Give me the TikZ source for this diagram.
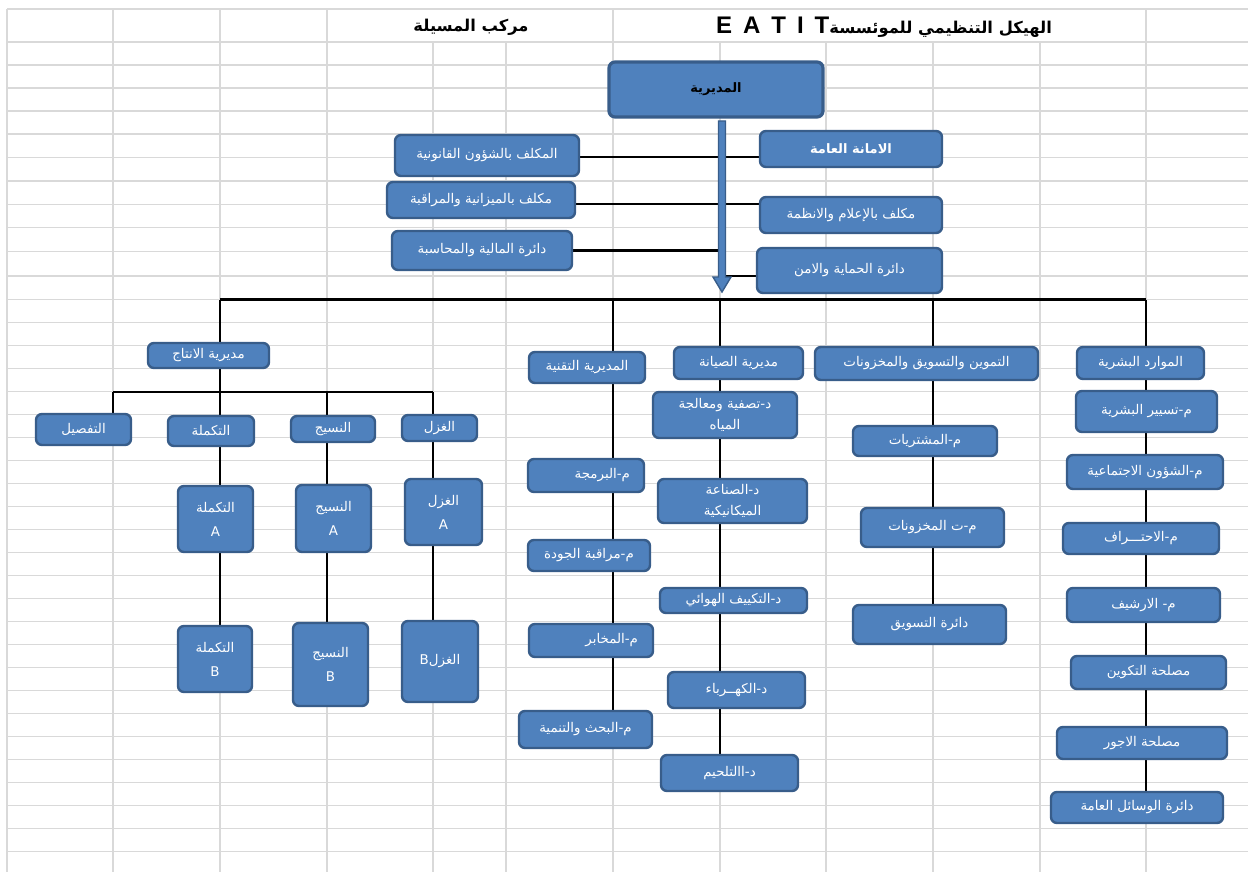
\documentclass[tikz,border=0pt]{standalone}
\usepackage{fontspec}
\setmainfont{Liberation Sans}
\newfontfamily\arabicfont[Script=Arabic]{DejaVu Sans}
\newfontfamily\latinfont{Liberation Sans}
\TeXXeTstate=1
\usetikzlibrary{calc}
\definecolor{boxfill}{HTML}{4F81BD}
\definecolor{boxline}{HTML}{385D8A}
\definecolor{gridgray}{HTML}{D9D9D9}
\pgfdeclarelayer{gridlayer}
\pgfdeclarelayer{connlayer}
\pgfsetlayers{gridlayer,connlayer,main}
\newcommand{\rl}[1]{\beginR #1\endR}
\newcommand{\orgbox}[7][]{%
  \pgfmathsetmacro\bxw{#5-#3}\pgfmathsetmacro\bxh{#6-#4}%
  \pgfmathsetmacro\bxx{(#3+#5)/2}\pgfmathsetmacro\bxy{(#4+#6)/2}%
  \node[box,minimum width=\bxw pt,minimum height=\bxh pt,#1] (#2) at (\bxx,\bxy) {#7};}
\tikzset{
  box/.style={draw=boxline, fill=boxfill, line width=2.4pt, rounded corners=6pt,
    inner sep=0pt, text=white, align=center,
    font=\arabicfont\fontsize{13.4}{21}\selectfont},
  tallbox/.style={font=\arabicfont\fontsize{13.4}{24}\selectfont},
  conn/.style={draw=black, line width=2.2pt},
  busline/.style={draw=black, line width=2.8pt},
  gridline/.style={draw=gridgray, line width=1.3pt},
  titletext/.style={inner sep=0pt, text=black, font=\arabicfont\bfseries\fontsize{16.3}{20}\selectfont},
  blockarrow/.style={draw=boxline, fill=boxfill, line width=1.4pt, line join=miter},
}
\begin{document}
\begin{tikzpicture}[x=1pt,y=-1pt]
\useasboundingbox (0,0) rectangle (1248,872);

% ---------------- grid ----------------
\begin{pgfonlayer}{gridlayer}
\fill[white] (0,0) rectangle (1248,872);
\foreach \x in {7,113,220,327,433,506,613,720,826,933,1040,1146}
  \draw[gridline] (\x,42) -- (\x,872);
\foreach \x in {7,113,220,327,613,1146}
  \draw[gridline] (\x,9) -- (\x,42);
\foreach \y in {9,42,65,88,111,134,157.5,181,204.3,227.7,251.3,276}
  \draw[gridline] (7,\y) -- (1248,\y);
\foreach \k in {0,...,24}
  \draw[gridline] (7,{299.5+23*\k}) -- (1248,{299.5+23*\k});
\end{pgfonlayer}

% ---------------- titles ----------------
\node[titletext] (title) at (884,27) {\beginR الهيكل التنظيمي للموئسسة\beginL{\latinfont\bfseries\fontsize{24}{26}\selectfont E\hspace{11pt}A\hspace{11pt}T\hspace{11pt}I\hspace{11pt}T}\endL\endR};
\node[titletext] (site) at (471,27) {\rl{مركب المسيلة}};

% ---------------- top ----------------
\orgbox[line width=3.2pt, text=black, font=\arabicfont\bfseries\fontsize{13}{16}\selectfont]{dir}{609}{62}{823}{117}{\rl{المديرية}}
\orgbox{legal}{395}{135}{579}{176}{\rl{المكلف بالشؤون القانونية}}
\orgbox{budget}{387}{182}{575}{218}{\rl{مكلف بالميزانية والمراقبة}}
\orgbox{finance}{392}{231}{572}{270}{\rl{دائرة المالية والمحاسبة}}
\orgbox[font=\arabicfont\bfseries\fontsize{13}{16}\selectfont]{amana}{760}{131}{942}{167}{\rl{الامانة العامة}}
\orgbox{media}{760}{197}{942}{233}{\rl{مكلف بالإعلام والانظمة}}
\orgbox{security}{757}{248}{942}{293}{\rl{دائرة الحماية والامن}}

% ---------------- production ----------------
\orgbox{prod}{148}{343}{269}{368}{\rl{مديرية الانتاج}}
\orgbox{tafsil}{36}{414}{131}{445}{\rl{التفصيل}}
\orgbox{takmila}{168}{416}{254}{446}{\rl{التكملة}}
\orgbox{nasij}{291}{416}{375}{442}{\rl{النسيج}}
\orgbox{ghazal}{402}{415}{477}{441}{\rl{الغزل}}
\orgbox[tallbox]{takA}{178}{486}{253}{552}{\rl{التكملة}\\A}
\orgbox[tallbox]{takB}{178}{626}{252}{692}{\rl{التكملة}\\B}
\orgbox[tallbox]{nasA}{296}{485}{371}{552}{\rl{النسيج}\\A}
\orgbox[tallbox]{nasB}{293}{623}{368}{706}{\rl{النسيج}\\B}
\orgbox[tallbox]{ghaA}{405}{479}{482}{545}{\rl{الغزل}\\A}
\orgbox{ghaB}{402}{621}{478}{702}{\beginR الغزل\beginL B\endL\endR}

% ---------------- technical ----------------
\orgbox{tech}{529}{352}{645}{383}{\rl{المديرية التقنية}}
\orgbox[text width=88pt, align=right]{prog}{528}{459}{644}{492}{\rl{م-البرمجة}}
\orgbox{qual}{528}{540}{650}{571}{\rl{م-مراقبة الجودة}}
\orgbox[text width=94pt, align=right]{labs}{529}{624}{653}{657}{\rl{م-المخابر}}
\orgbox{research}{519}{711}{652}{748}{\rl{م-البحث والتنمية}}

% ---------------- maintenance ----------------
\orgbox{maint}{674}{347}{803}{379}{\rl{مديرية الصيانة}}
\orgbox{water}{653}{392}{797}{438}{\rl{د-تصفية ومعالجة}\\\rl{المياه}}
\orgbox{mech}{658}{479}{807}{523}{\rl{د-الصناعة}\\\rl{الميكانيكية}}
\orgbox{air}{660}{588}{807}{613}{\rl{د-التكييف الهوائي}}
\orgbox{elec}{668}{672}{805}{708}{\rl{د-الكهــرباء}}
\orgbox{weld}{661}{755}{798}{791}{\rl{د-االتلحيم}}

% ---------------- supply ----------------
\orgbox{supply}{815}{347}{1038}{380}{\rl{التموين والتسويق والمخزونات}}
\orgbox{purch}{853}{426}{997}{456}{\rl{م-المشتريات}}
\orgbox{stock}{861}{508}{1004}{547}{\rl{م-ت المخزونات}}
\orgbox{market}{853}{605}{1006}{644}{\rl{دائرة التسويق}}

% ---------------- human resources ----------------
\orgbox{hr}{1077}{347}{1204}{379}{\rl{الموارد البشرية}}
\orgbox{hrm}{1076}{391}{1217}{432}{\rl{م-تسيير البشرية}}
\orgbox{social}{1067}{455}{1223}{489}{\rl{م-الشؤون الاجتماعية}}
\orgbox{prof}{1063}{523}{1219}{554}{\rl{م-الاحتـــراف}}
\orgbox{archive}{1067}{588}{1220}{622}{\rl{م- الارشيف}}
\orgbox{training}{1071}{656}{1226}{689}{\rl{مصلحة التكوين}}
\orgbox{wages}{1057}{727}{1227}{759}{\rl{مصلحة الاجور}}
\orgbox{means}{1051}{792}{1223}{823}{\rl{دائرة الوسائل العامة}}

% ---------------- connector coordinates ----------------
\coordinate (arrtop) at (722,121);
\coordinate (arrtip) at (722,292);
\coordinate (busL) at (220,299.5);
\coordinate (busR) at (1146,299.5);
\coordinate (jT) at (613,299.5);
\coordinate (jM) at (720,299.5);
\coordinate (jS) at (933,299.5);
\coordinate (sbL) at (113,392);
\coordinate (sbM) at (327,392);
\coordinate (sbR) at (433,392);
\coordinate (h1) at ([yshift=-1.8pt]legal.east);
\coordinate (h2) at ([yshift=-4.3pt]budget.east);
\coordinate (h3) at (finance.east);
\coordinate (h4) at ([yshift=-5.5pt]security.west);

% ---------------- connectors ----------------
\begin{pgfonlayer}{connlayer}
\draw[conn] (h1) -- (h1 -| amana.west);
\draw[conn] (h2) -- (h2 -| media.west);
\draw[conn] (h3) -- (h3 -| arrtop);
\draw[conn] (h4 -| arrtop) -- (h4);
\draw[busline] (busL) -- (busR);
\draw[conn] (busL) -- (busL |- takB.north);
\draw[conn] (sbL) -- (sbR);
\draw[conn] (sbL) -- (sbL |- tafsil.north);
\draw[conn] (sbM) -- (sbM |- nasB.north);
\draw[conn] (sbR) -- (sbR |- ghaB.north);
\draw[conn] (jT) -- (jT |- research.north);
\draw[conn] (jM) -- (jM |- weld.north);
\draw[conn] (jS) -- (jS |- market.north);
\draw[conn] (busR) -- (busR |- means.north);
\end{pgfonlayer}

% ---------------- block arrow ----------------
\draw[blockarrow] ($(arrtop)+(-3.5,0)$) -- ($(arrtop)+(3.5,0)$) -- ($(arrtip)+(3.5,-15)$)
  -- ($(arrtip)+(9,-15)$) -- (arrtip) -- ($(arrtip)+(-9,-15)$) -- ($(arrtip)+(-3.5,-15)$) -- cycle;
\end{tikzpicture}
\end{document}
